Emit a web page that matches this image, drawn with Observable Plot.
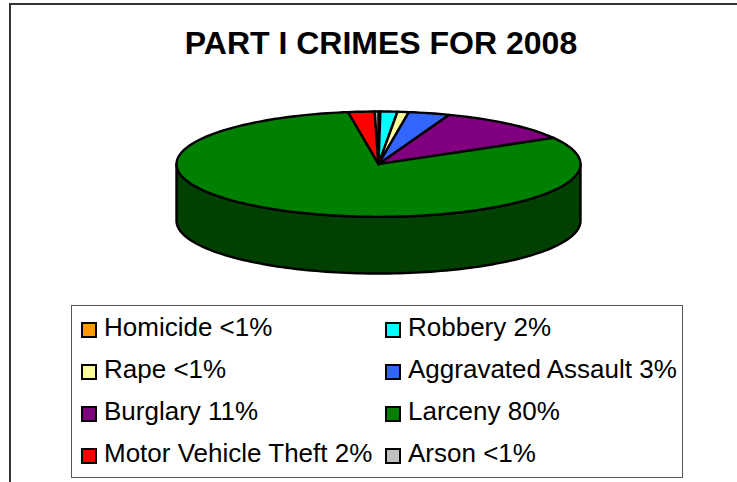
<!DOCTYPE html>
<html>
<head>
<meta charset="utf-8">
<script src="https://cdn.jsdelivr.net/npm/d3@7"></script>
<script src="https://cdn.jsdelivr.net/npm/@observablehq/plot@0.6"></script>
<style>
html,body{margin:0;padding:0;background:#fff;width:737px;height:482px;overflow:hidden}
#stage{position:relative;width:737px;height:482px;overflow:hidden;font-family:"Liberation Sans",Arial,sans-serif;color:#000}
#frame{position:absolute;left:9px;top:3px;width:760px;height:520px;border:2px solid #333;box-sizing:border-box}
#title{position:absolute;left:0;width:762px;top:24px;text-align:center;font-size:32px;font-weight:bold;line-height:38px;white-space:nowrap}
#chart{position:absolute;left:0;top:95px}
#legend{position:absolute;left:71px;top:305px;width:612px;height:173px;border:1px solid #555;box-sizing:border-box;background:#fff;
 display:grid;grid-template-columns:304px 1fr;grid-auto-rows:42px;padding:0 0 0 9px}
.item{display:flex;align-items:center;font-size:26px;white-space:nowrap}
.sw{width:16px;height:16px;border:2px solid #000;box-sizing:border-box;margin-right:7px;flex:none;position:relative;top:3px}
</style>
</head>
<body>
<div id="stage">
  <div id="frame"></div>
  <div id="title"></div>
  <div id="chart"></div>
  <div id="legend"></div>
</div>
<script>
const titleText = "PART I CRIMES FOR 2008";
const categories = ["Homicide","Robbery","Rape","Aggravated Assault","Burglary","Larceny","Motor Vehicle Theft","Arson"];
const labels = ["<1%","2%","<1%","3%","11%","80%","2%","<1%"];
const shares = [0.15,1.35,0.9,3.3,11,80.9,2.1,0.3];
const colors = ["#FF9900","#00FFFF","#FFFF99","#3366FF","#800080","#008000","#FF0000","#C0C0C0"];
const sideColor = "#004000";

const tilt = 53/202, depth = 57/202, step = Math.PI/120;

// wedge outlines from the shares, in units of the pie radius (clockwise from 12 o'clock)
const arcs = d3.pie().sort(null).value(d=>d)(shares);
const pt = a => ({x:Math.sin(a), y:-Math.cos(a)*tilt});
const wedges = arcs.flatMap((arc,i)=>{
  const pts=[{x:0,y:0}];
  const n=Math.max(1,Math.ceil((arc.endAngle-arc.startAngle)/step));
  for(let k=0;k<=n;k++) pts.push(pt(arc.startAngle+(arc.endAngle-arc.startAngle)*k/n));
  pts.push({x:0,y:0});
  return pts.map(p=>({...p,name:categories[i]}));
});
// visible rim: the front half of the pie, pushed down by the depth
const rimTop=[];
for(let a=Math.PI/2;a<=3*Math.PI/2+1e-9;a+=step) rimTop.push(pt(a));
const rim=[...rimTop,...rimTop.slice().reverse().map(p=>({x:p.x,y:p.y+depth})),rimTop[0]];

const plot = Plot.plot({
  width:737,height:190,margin:0,
  x:{domain:[-1,1],range:[176,580],axis:null},
  y:{domain:[-tilt,tilt+depth],range:[16,178],axis:null},
  color:{domain:categories,range:colors},
  style:{background:"transparent",overflow:"visible"},
  marks:[
    Plot.line(rim,{x:"x",y:"y",fill:sideColor,stroke:"#000",strokeWidth:2.4,curve:"linear"}),
    Plot.line(wedges,{x:"x",y:"y",z:"name",fill:"name",stroke:"#000",strokeWidth:2.4,curve:"linear",strokeLinejoin:"round"})
  ]
});
document.getElementById("chart").append(plot);
document.getElementById("title").textContent=titleText;

const legend=document.getElementById("legend");
categories.forEach((c,i)=>{
  const it=document.createElement("div");it.className="item";
  const s=document.createElement("span");s.className="sw";s.style.background=colors[i];
  const t=document.createElement("span");t.textContent=c+" "+labels[i];
  it.append(s,t);legend.append(it);
});
</script>
</body>
</html>
